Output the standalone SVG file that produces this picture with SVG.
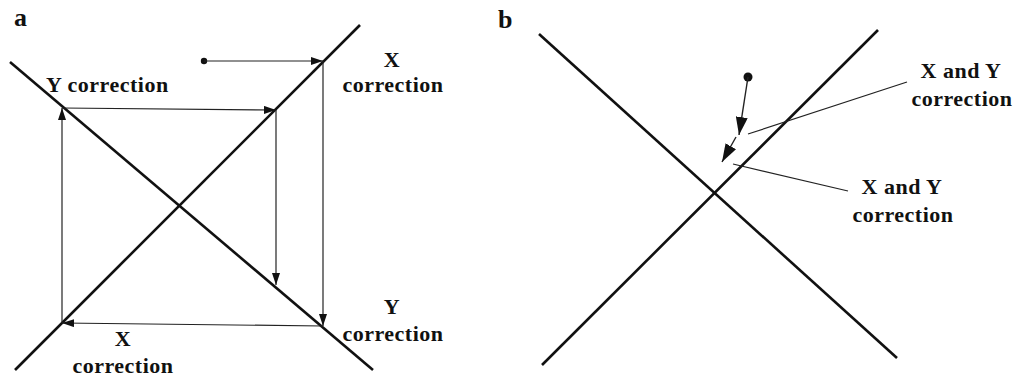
<svg xmlns="http://www.w3.org/2000/svg" width="1016" height="376" viewBox="0 0 1016 376">
<style>
.t{font-family:"Liberation Serif","Times New Roman",serif;font-weight:bold;font-size:22px;letter-spacing:0.5px;fill:#111}
.p{font-family:"Liberation Serif","Times New Roman",serif;font-weight:bold;font-size:26px;fill:#111}
.main{stroke:#111;stroke-width:2.6;fill:none}
.thin{stroke:#222;stroke-width:1.2;fill:none}
.arr{stroke:#222;stroke-width:1.2;fill:none;marker-end:url(#ah)}
.arrb{stroke:#222;stroke-width:1.4;fill:none;marker-end:url(#ahb)}
</style>
<defs>
<marker id="ah" viewBox="0 0 12 8" refX="12" refY="4" markerWidth="12" markerHeight="8" markerUnits="userSpaceOnUse" orient="auto">
<path d="M0,0 L12,4 L0,8 Z" fill="#111"/>
</marker>
<marker id="ahb" viewBox="0 0 18 12" refX="18" refY="6" markerWidth="18" markerHeight="12" markerUnits="userSpaceOnUse" orient="auto">
<path d="M0,0 L18,6 L0,12 Z" fill="#111"/>
</marker>
</defs>
<rect width="1016" height="376" fill="#fff"/>

<g id="panel-a-label"><text class="p" x="14" y="26">a</text></g>
<g id="panel-b-label"><text class="p" x="498" y="28">b</text></g>

<g id="a-lines">
<line class="main" x1="10" y1="62" x2="373" y2="370"/>
<line class="main" x1="15" y1="370" x2="360" y2="25"/>
</g>
<g id="a-start"><circle cx="204" cy="61" r="3.2" fill="#111"/></g>
<g id="a-connectors">
<line class="arr" x1="204" y1="61" x2="323" y2="61"/>
<line class="arr" x1="323" y1="61" x2="323" y2="326"/>
<line class="arr" x1="323" y1="326" x2="62" y2="323"/>
<line class="arr" x1="62" y1="323" x2="62" y2="108"/>
<line class="arr" x1="62" y1="108" x2="276" y2="110"/>
<line class="arr" x1="276" y1="110" x2="276" y2="285"/>
</g>
<g id="a-label-ycorr-top"><text class="t" x="46" y="92">Y correction</text></g>
<g id="a-label-xcorr-right"><text class="t" text-anchor="middle" x="392" y="67">X</text><text class="t" text-anchor="middle" x="393" y="92">correction</text></g>
<g id="a-label-ycorr-right"><text class="t" text-anchor="middle" x="392" y="314">Y</text><text class="t" text-anchor="middle" x="393" y="341">correction</text></g>
<g id="a-label-xcorr-bottom"><text class="t" text-anchor="middle" x="123" y="346">X</text><text class="t" text-anchor="middle" x="123" y="373">correction</text></g>

<g id="b-lines">
<line class="main" x1="539" y1="34" x2="897" y2="358"/>
<line class="main" x1="542" y1="365" x2="878" y2="30"/>
</g>
<g id="b-start"><circle cx="748" cy="77" r="4.5" fill="#111"/></g>
<g id="b-connectors">
<line class="arrb" x1="748" y1="77" x2="739" y2="135"/>
<line class="arrb" x1="736" y1="137" x2="722" y2="162"/>
<line class="thin" x1="748" y1="134" x2="907" y2="82"/>
<line class="thin" x1="733" y1="164" x2="848" y2="191"/>
</g>
<g id="b-label-1"><text class="t" text-anchor="middle" x="961" y="78">X and Y</text><text class="t" text-anchor="middle" x="962" y="106">correction</text></g>
<g id="b-label-2"><text class="t" text-anchor="middle" x="902" y="194">X and Y</text><text class="t" text-anchor="middle" x="903" y="222">correction</text></g>
</svg>
